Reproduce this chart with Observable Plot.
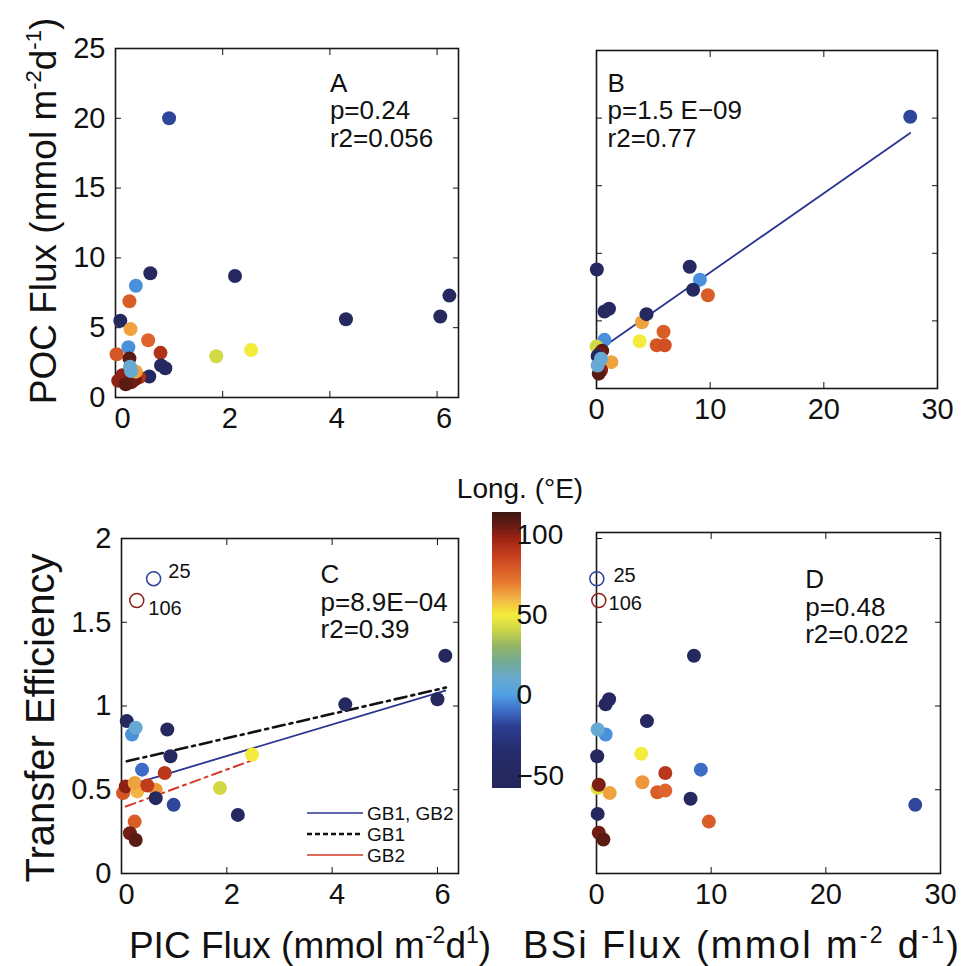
<!DOCTYPE html>
<html><head><meta charset="utf-8">
<script src="https://cdn.jsdelivr.net/npm/d3@7"></script>
<script src="https://cdn.jsdelivr.net/npm/@observablehq/plot@0.6"></script>
<style>
body{margin:0;background:#fff;}
#root{position:relative;width:967px;height:966px;font-family:"Liberation Sans",Arial,Helvetica,sans-serif;background:#fff;}
</style></head><body><div id="root"></div>
<script>
// ---------- Panel A: POC flux vs PIC flux ----------
const picA = [1.0,0.65,2.23,4.3,6.06,6.23,0.38,0.26,0.09,0.28,0.61,0.24,0.02,0.84,0.26,1.88,2.53,0.85,0.93,0.63,0.13,0.05,0.44,0.36,0.30,0.19,0.38,0.27,0.29];
const pocA = [20.0,8.9,8.7,5.6,5.8,7.3,8.0,6.9,5.5,4.9,4.1,3.6,3.1,3.2,2.8,2.95,3.4,2.3,2.1,1.5,1.6,1.2,1.45,1.3,1.1,0.95,1.85,2.2,1.9];
const lonA = [-18,-50,-50,-50,-50,-50,-3,78,-50,63,76,-3,80,92,108,42,50,-50,-50,-50,100,100,92,106,104,108,63,9,9];

// ---------- Panel B: POC flux vs BSi flux ----------
const bsiB = [27.6,0.03,8.2,9.1,8.5,9.8,0.7,1.1,4.0,4.4,5.9,3.8,5.3,6.0,0.7,0.0,0.5,0.3,0.1,1.3,0.4,0.4,0.2,0.1];
const pocB = [20.1,8.8,9.0,8.05,7.3,6.9,5.7,5.9,4.9,5.5,4.2,3.5,3.2,3.2,3.6,3.1,2.8,2.6,2.4,1.95,1.35,2.2,1.1,1.7];
const lonB = [-18,-50,-50,-3,-50,78,-50,-50,63,-50,78,50,80,82,-3,42,108,104,-50,63,100,9,108,9];
const fitBX = [0.5, 27.6];
const fitBY = [3.02, 18.9];

// ---------- Panel C: transfer efficiency vs PIC flux ----------
const picC = [6.15,4.25,6.0,0.1,0.2,0.27,0.87,0.93,2.48,0.39,0.82,0.03,0.08,0.3,0.25,0.65,0.49,0.65,0.99,1.87,2.21,0.25,0.16,0.27];
const teC  = [1.30,1.01,1.04,0.91,0.83,0.87,0.86,0.70,0.71,0.62,0.60,0.48,0.52,0.49,0.54,0.50,0.525,0.45,0.41,0.51,0.35,0.31,0.24,0.20];
const lonC = [-50,-50,-50,-50,-3,9,-50,-50,50,-10,90,80,100,60,63,65,88,-50,-18,42,-50,78,104,108];
const outlierPicC = [0.61, 0.29];
const outlierTeC  = [1.76, 1.63];
const outlierLon  = [-18, 100];
const outlierNames = ["25", "106"];
const outlierLabelXC = [0.89, 0.51];
const outlierLabelYC = [1.80, 1.58];
const fitGB12X = [0.25, 6.15], fitGB12Y = [0.537, 1.092];
const fitGB1X  = [0.1, 6.16],  fitGB1Y  = [0.670, 1.110];
const fitGB2X  = [0.08, 2.5],  fitGB2Y  = [0.40, 0.678];

// ---------- Panel D: transfer efficiency vs BSi flux ----------
const bsiD = [8.5,1.1,0.8,4.4,0.8,0.1,0.06,3.9,9.1,6.0,0.1,0.2,1.15,4.0,5.3,6.0,8.2,27.8,0.1,9.8,0.2,0.6];
const teD  = [1.30,1.04,1.01,0.91,0.83,0.86,0.70,0.715,0.62,0.60,0.51,0.53,0.48,0.545,0.485,0.495,0.446,0.41,0.356,0.31,0.243,0.203];
const lonD = [-50,-50,-50,-50,-3,9,-50,50,-10,90,45,102,63,65,78,76,-50,-18,-50,78,104,108];
const outlierBsiD = [0.03, 0.2];
const outlierTeD  = [1.76, 1.63];
const outlierLabelXD = [1.48, 1.05];
const outlierLabelYD = [1.78, 1.61];

// ---------- statistics text ----------
const statsText = ["A\np=0.24\nr2=0.056", "B\np=1.5 E\u221209\nr2=0.77", "C\np=8.9E\u221204\nr2=0.39", "D\np=0.48\nr2=0.022"];

// ---------- colour bar (longitude, °E) ----------
const lonStops  = [-58,-35,-20,-10,0,10,20,30,40,50,60,70,85,97,105,114];
const lonColors = ["#24275a","#262c6c","#2c3c90","#3c6cc4","#50a0e6","#68aad0","#72aa98","#90b468","#c8d448","#f4ec3c","#f2b444","#e87a30","#cc4420","#a02414","#6a1c14","#3a1812"];
const cbTicks = [-50, 0, 50, 100];

const FONT = '"Liberation Sans", Arial, Helvetica, sans-serif';
const colorOpts = {type: "linear", domain: lonStops, range: lonColors, clamp: true};
const root = document.getElementById("root");

function rows(xs, ys, cs) { return xs.map((x, i) => ({x, y: ys[i], c: cs ? cs[i] : null})); }

function panel({left, top, width, height, margin, xDomain, yDomain, xTicks, yTicks, yLabels, xLabelDx, marks}) {
  const svg = Plot.plot({
    width, height,
    marginTop: margin[0], marginRight: margin[1], marginBottom: margin[2], marginLeft: margin[3],
    x: {domain: xDomain}, y: {domain: yDomain},
    color: colorOpts,
    style: {fontFamily: FONT, fontSize: "29px", color: "#111", background: "transparent", overflow: "visible"},
    marks: [
      Plot.frame({stroke: "#1a1a1a", strokeWidth: 1.6}),
      Plot.axisX({anchor: "bottom", ticks: xTicks, tickSize: 0, tickPadding: 10, label: null, tickFormat: d => String(d), dx: xLabelDx}),
      Plot.axisX({anchor: "bottom", ticks: xTicks, tickSize: -6, tickFormat: () => "", label: null}),
      Plot.axisX({anchor: "top", ticks: xTicks, tickSize: -6, tickFormat: () => "", label: null}),
      Plot.axisY({anchor: "left", ticks: yTicks, tickSize: -6, tickPadding: 16, label: null, tickFormat: yLabels ? (d => String(d)) : (() => "")}),
      Plot.axisY({anchor: "right", ticks: yTicks, tickSize: -6, tickFormat: () => "", label: null}),
      ...marks
    ]
  });
  svg.style.position = "absolute";
  svg.style.left = left + "px";
  svg.style.top = top + "px";
  root.appendChild(svg);
}

const dotOpts = {x: "x", y: "y", fill: "c", r: 7};
const ringOpts = {x: "x", y: "y", stroke: "c", r: 7, strokeWidth: 1.5, fill: "none"};
const nameOpts = {x: "x", y: "y", text: "t", textAnchor: "start", fontSize: 20, fill: "#111"};
const statOpts = {x: "x", y: "y", text: "t", textAnchor: "start", lineAnchor: "top", fontSize: 26, lineHeight: 1.06, fill: "#111"};
function names(xs, ys) { return xs.map((x, i) => ({x, y: ys[i], t: outlierNames[i]})); }

// Panel A
panel({
  left: 0, top: 0, width: 480, height: 440, margin: [48, 22, 43, 115],
  xDomain: [0, 6.4], yDomain: [0, 25], xTicks: [0, 2, 4, 6], yTicks: [0, 5, 10, 15, 20, 25], yLabels: true, xLabelDx: 7,
  marks: [
    Plot.dot(rows(picA, pocA, lonA), dotOpts),
    Plot.text([{x: 4.0, y: 23.3, t: statsText[0]}], statOpts)
  ]
});

// Panel B
panel({
  left: 480, top: 0, width: 487, height: 440, margin: [50, 30, 52, 116],
  xDomain: [0, 30], yDomain: [0, 25], xTicks: [0, 10, 20, 30], yTicks: [0, 5, 10, 15, 20, 25], yLabels: false, xLabelDx: 0,
  marks: [
    Plot.line(rows(fitBX, fitBY), {x: "x", y: "y", stroke: "#2b3590", strokeWidth: 1.8}),
    Plot.dot(rows(bsiB, pocB, lonB), dotOpts),
    Plot.text([{x: 0.97, y: 23.4, t: statsText[1]}], statOpts)
  ]
});

// Panel C
panel({
  left: 0, top: 480, width: 480, height: 486, margin: [58, 22, 93, 121],
  xDomain: [0, 6.4], yDomain: [0, 2], xTicks: [0, 2, 4, 6], yTicks: [0, 0.5, 1, 1.5, 2], yLabels: true, xLabelDx: 5,
  marks: [
    Plot.line(rows(fitGB1X, fitGB1Y), {x: "x", y: "y", stroke: "#111", strokeWidth: 2.6, strokeDasharray: "12,5,3,5"}),
    Plot.line(rows(fitGB12X, fitGB12Y), {x: "x", y: "y", stroke: "#2b3590", strokeWidth: 1.8}),
    Plot.line(rows(fitGB2X, fitGB2Y), {x: "x", y: "y", stroke: "#d63a26", strokeWidth: 2, strokeDasharray: "10,5,3,5"}),
    Plot.dot(rows(picC, teC, lonC), dotOpts),
    Plot.dot(rows(outlierPicC, outlierTeC, outlierLon), ringOpts),
    Plot.text(names(outlierLabelXC, outlierLabelYC), nameOpts),
    Plot.text([{x: 3.78, y: 1.85, t: statsText[2]}], statOpts)
  ]
});

// Panel D
panel({
  left: 480, top: 480, width: 487, height: 486, margin: [52, 27, 93, 116],
  xDomain: [0, 30], yDomain: [0, 2.036], xTicks: [0, 10, 20, 30], yTicks: [0, 0.5, 1, 1.5, 2], yLabels: false, xLabelDx: 0,
  marks: [
    Plot.dot(rows(bsiD, teD, lonD), dotOpts),
    Plot.dot(rows(outlierBsiD, outlierTeD, outlierLon), ringOpts),
    Plot.text(names(outlierLabelXD, outlierLabelYD), nameOpts),
    Plot.text([{x: 18.2, y: 1.82, t: statsText[3]}], statOpts)
  ]
});

// Colour bar
const cbVals = d3.range(-58, 114, 0.5);
const cb = Plot.plot({
  width: 140, height: 400, marginTop: 72, marginBottom: 52, marginLeft: 52, marginRight: 59,
  x: {domain: [0, 1], axis: null}, y: {domain: [-58, 114]},
  color: colorOpts,
  style: {fontFamily: FONT, fontSize: "28px", color: "#111", background: "transparent", overflow: "visible"},
  marks: [
    Plot.rect(cbVals, {x1: 0, x2: 1, y1: d => d, y2: d => d + 0.6, fill: d => d + 0.25, shapeRendering: "crispEdges"}),
    Plot.axisY({anchor: "right", ticks: cbTicks, tickSize: 0, tickPadding: -5, label: null})
  ]
});
cb.style.position = "absolute"; cb.style.left = "440px"; cb.style.top = "440px";
root.appendChild(cb);

// Titles, axis labels and legend overlay
const ov = document.createElementNS("http://www.w3.org/2000/svg", "svg");
ov.setAttribute("width", 967); ov.setAttribute("height", 966);
ov.style.cssText = "position:absolute;left:0;top:0;pointer-events:none;overflow:visible";
ov.innerHTML = `
<g font-family='${FONT}' fill="#111">
  <text transform="translate(56,211) rotate(-90)" text-anchor="middle" font-size="37">POC Flux (mmol m<tspan font-size="22" dy="-15">-2</tspan><tspan dy="15">d</tspan><tspan font-size="22" dy="-15">-1</tspan><tspan dy="15">)</tspan></text>
  <text transform="translate(54,718) rotate(-90)" text-anchor="middle" font-size="40">Transfer Efficiency</text>
  <text x="310" y="958" text-anchor="middle" font-size="37">PIC Flux (mmol m<tspan font-size="23" dy="-15">-2</tspan><tspan dy="15">d</tspan><tspan font-size="23" dy="-15">1</tspan><tspan dy="15">)</tspan></text>
  <text x="741" y="958" text-anchor="middle" font-size="38" textLength="436" lengthAdjust="spacing">BSi Flux (mmol m<tspan font-size="23" dy="-15">-2</tspan><tspan dy="15"> d</tspan><tspan font-size="23" dy="-15">-1</tspan><tspan dy="15">)</tspan></text>
  <text x="520" y="498" text-anchor="middle" font-size="28">Long. (°E)</text>
  <line x1="307" x2="363" y1="813" y2="813" stroke="#2b3590" stroke-width="1.6"/>
  <line x1="307" x2="363" y1="834" y2="834" stroke="#111" stroke-width="2.6" stroke-dasharray="5,3"/>
  <line x1="307" x2="363" y1="855" y2="855" stroke="#d63a26" stroke-width="1.6"/>
  <text x="367" y="820" font-size="19">GB1, GB2</text>
  <text x="367" y="841" font-size="19">GB1</text>
  <text x="367" y="862" font-size="19">GB2</text>
</g>`;
root.appendChild(ov);
</script>
</body></html>
